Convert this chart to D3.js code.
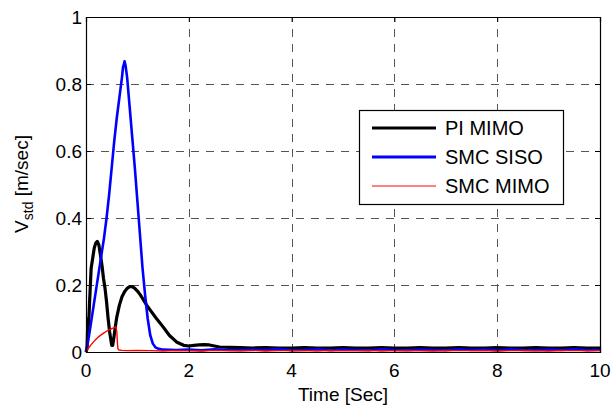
<!DOCTYPE html>
<html><head><meta charset="utf-8">
<script src="https://cdn.jsdelivr.net/npm/d3@7"></script>
<style>
html,body{margin:0;padding:0;background:#fff;}
svg{display:block;font-family:"Liberation Sans",Arial,sans-serif;}
</style></head>
<body>
<svg id="chart" width="611" height="407"></svg>
<script>
const xTicks = [0, 2, 4, 6, 8, 10];
const yTicks = [0, 0.2, 0.4, 0.6, 0.8, 1];
const seriesNames = ["PI MIMO", "SMC SISO", "SMC MIMO"];

const piTime = [0,0.02,0.03,0.04,0.05,0.07,0.1,0.13,0.16,0.19,0.22,0.25,0.28,0.31,0.34,0.37,0.4,0.43,0.46,0.48,0.5,0.51,0.52,0.54,0.57,0.6,0.65,0.7,0.75,0.8,0.85,0.9,0.95,1.0,1.05,1.1,1.18,1.25,1.37,1.5,1.62,1.76,1.9,2.0,2.1,2.2,2.3,2.4,2.5,2.6,2.8,3.0,3.25,3.5,3.75,4.0,4.25,4.5,4.75,5.0,5.25,5.5,5.75,6.0,6.25,6.5,6.75,7.0,7.25,7.5,7.75,8.0,8.25,8.5,8.75,9.0,9.25,9.5,9.75,10];
const piValue = [0,0.01,0.06,0.1,0.08,0.15,0.25,0.28,0.31,0.325,0.33,0.32,0.29,0.26,0.22,0.19,0.15,0.1,0.06,0.04,0.02,0.035,0.02,0.04,0.075,0.105,0.14,0.165,0.18,0.19,0.195,0.195,0.19,0.182,0.172,0.16,0.14,0.125,0.1,0.075,0.05,0.03,0.02,0.018,0.02,0.021,0.022,0.021,0.018,0.015,0.014,0.013,0.012,0.013,0.012,0.012,0.013,0.012,0.012,0.013,0.012,0.012,0.013,0.012,0.012,0.013,0.012,0.012,0.013,0.012,0.012,0.013,0.012,0.012,0.013,0.012,0.012,0.013,0.012,0.012];

const siTime = [0,0.05,0.1,0.15,0.2,0.25,0.3,0.35,0.4,0.45,0.5,0.55,0.6,0.65,0.7,0.72,0.74,0.75,0.77,0.8,0.85,0.9,0.95,1.0,1.05,1.1,1.15,1.2,1.25,1.3,1.35,1.4,1.5,1.75,2.0,2.25,2.5,2.75,3.0,3.25,3.5,3.75,4.0,4.25,4.5,4.75,5.0,5.25,5.5,5.75,6.0,6.25,6.5,6.75,7.0,7.25,7.5,7.75,8.0,8.25,8.5,8.75,9.0,9.25,9.5,9.75,10];
const siValue = [0,0.04,0.09,0.14,0.19,0.24,0.29,0.34,0.4,0.47,0.55,0.63,0.7,0.76,0.82,0.85,0.86,0.868,0.855,0.82,0.73,0.64,0.55,0.45,0.35,0.25,0.17,0.1,0.05,0.025,0.014,0.01,0.007,0.006,0.007,0.005,0.008,0.006,0.005,0.007,0.006,0.009,0.005,0.006,0.008,0.005,0.007,0.006,0.005,0.008,0.006,0.005,0.007,0.006,0.005,0.008,0.006,0.007,0.005,0.008,0.006,0.005,0.007,0.006,0.008,0.005,0.006];

const smTime = [0,0.05,0.1,0.15,0.2,0.25,0.3,0.35,0.4,0.45,0.5,0.55,0.58,0.6,0.61,0.62,0.64,0.7,0.8,1.0,1.25,1.5,1.75,2.0,2.25,2.5,2.75,3.0,3.25,3.5,3.75,4.0,4.25,4.5,4.75,5.0,5.25,5.5,5.75,6.0,6.25,6.5,6.75,7.0,7.25,7.5,7.75,8.0,8.25,8.5,8.75,9.0,9.25,9.5,9.75,10];
const smValue = [0,0.012,0.022,0.031,0.039,0.046,0.052,0.057,0.062,0.066,0.07,0.073,0.075,0.06,0.03,0.01,0.006,0.005,0.004,0.005,0.004,0.003,0.005,0.004,0.003,0.005,0.004,0.004,0.005,0.003,0.004,0.005,0.004,0.003,0.005,0.004,0.004,0.005,0.003,0.004,0.005,0.004,0.003,0.005,0.004,0.004,0.005,0.003,0.004,0.005,0.004,0.003,0.005,0.004,0.004,0.005];

const svg = d3.select("#chart");
const L = 86, R = 600, T = 17, B = 352;
const x = d3.scaleLinear().domain([0, 10]).range([L, R]);
const y = d3.scaleLinear().domain([0, 1]).range([B, T]);

// grid
const g = svg.append("g");
g.selectAll("line.vg").data(xTicks.slice(1, -1)).enter().append("line")
  .attr("x1", d => Math.round(x(d)) + 0.5).attr("x2", d => Math.round(x(d)) + 0.5)
  .attr("y1", B).attr("y2", T)
  .attr("stroke", "#555").attr("stroke-width", 1).attr("stroke-dasharray", "8,7");
g.selectAll("line.hg").data(yTicks.slice(1, -1)).enter().append("line")
  .attr("y1", d => Math.round(y(d)) + 0.5).attr("y2", d => Math.round(y(d)) + 0.5)
  .attr("x1", L).attr("x2", R)
  .attr("stroke", "#555").attr("stroke-width", 1).attr("stroke-dasharray", "8,7");

// lines
const line = d3.line().x(d => x(d[0])).y(d => y(d[1]));
const zip = (a, b) => a.map((t, i) => [t, b[i]]);
svg.append("path").datum(zip(piTime, piValue)).attr("d", line)
  .attr("fill", "none").attr("stroke", "#000").attr("stroke-width", 3.2).attr("stroke-linejoin", "round");
svg.append("path").datum(zip(siTime, siValue)).attr("d", line)
  .attr("fill", "none").attr("stroke", "#0000ff").attr("stroke-width", 2.6).attr("stroke-linejoin", "round");
svg.append("path").datum(zip(smTime, smValue)).attr("d", line)
  .attr("fill", "none").attr("stroke", "#ff0000").attr("stroke-width", 1.4).attr("stroke-linejoin", "round");

// axes box with inward ticks
const xAxisB = d3.axisBottom(x).tickValues(xTicks).tickSize(-5).tickFormat("");
const xAxisT = d3.axisTop(x).tickValues(xTicks).tickSize(-5).tickFormat("");
const yAxisL = d3.axisLeft(y).tickValues(yTicks).tickSize(-5).tickFormat("");
const yAxisR = d3.axisRight(y).tickValues(yTicks).tickSize(-5).tickFormat("");
[[xAxisB, `translate(0,${B})`], [xAxisT, `translate(0,${T})`], [yAxisL, `translate(${L},0)`], [yAxisR, `translate(${R},0)`]]
  .forEach(([ax, tr]) => {
    const a = svg.append("g").attr("transform", tr).call(ax);
    a.select(".domain").attr("stroke", "#000").attr("stroke-width", 1.2);
    a.selectAll(".tick line").attr("stroke", "#000");
  });

// tick labels
svg.selectAll("text.xt").data(xTicks).enter().append("text")
  .attr("x", d => x(d)).attr("y", 377).attr("text-anchor", "middle")
  .attr("font-size", 19).text(d => d3.format("")(d));
svg.selectAll("text.yt").data(yTicks).enter().append("text")
  .attr("x", 82).attr("y", d => y(d) + 7).attr("text-anchor", "end")
  .attr("font-size", 19).text(d => d);

// axis labels
svg.append("text").attr("x", (L + R) / 2).attr("y", 401).attr("text-anchor", "middle")
  .attr("font-size", 19).text("Time [Sec]");
const yl = svg.append("text").attr("transform", "translate(28,184) rotate(-90)")
  .attr("text-anchor", "middle").attr("font-size", 19);
yl.append("tspan").text("V");
yl.append("tspan").attr("font-size", 14).attr("dy", 5).text("std");
yl.append("tspan").attr("dy", -5).text(" [m/sec]");

// legend
const lg = svg.append("g");
lg.append("rect").attr("x", 359.5).attr("y", 110.5).attr("width", 204).attr("height", 94)
  .attr("fill", "#fff").attr("stroke", "#000").attr("stroke-width", 1.2);
const legColors = ["#000", "#0000ff", "#ff0000"];
const legWidths = [3.2, 3, 1];
const legY = [128, 157, 186];
seriesNames.forEach((n, i) => {
  lg.append("line").attr("x1", 372).attr("x2", 436).attr("y1", legY[i]).attr("y2", legY[i])
    .attr("stroke", legColors[i]).attr("stroke-width", legWidths[i]);
  lg.append("text").attr("x", 445).attr("y", legY[i] + 7).attr("font-size", 20).text(n);
});
</script>
</body></html>
